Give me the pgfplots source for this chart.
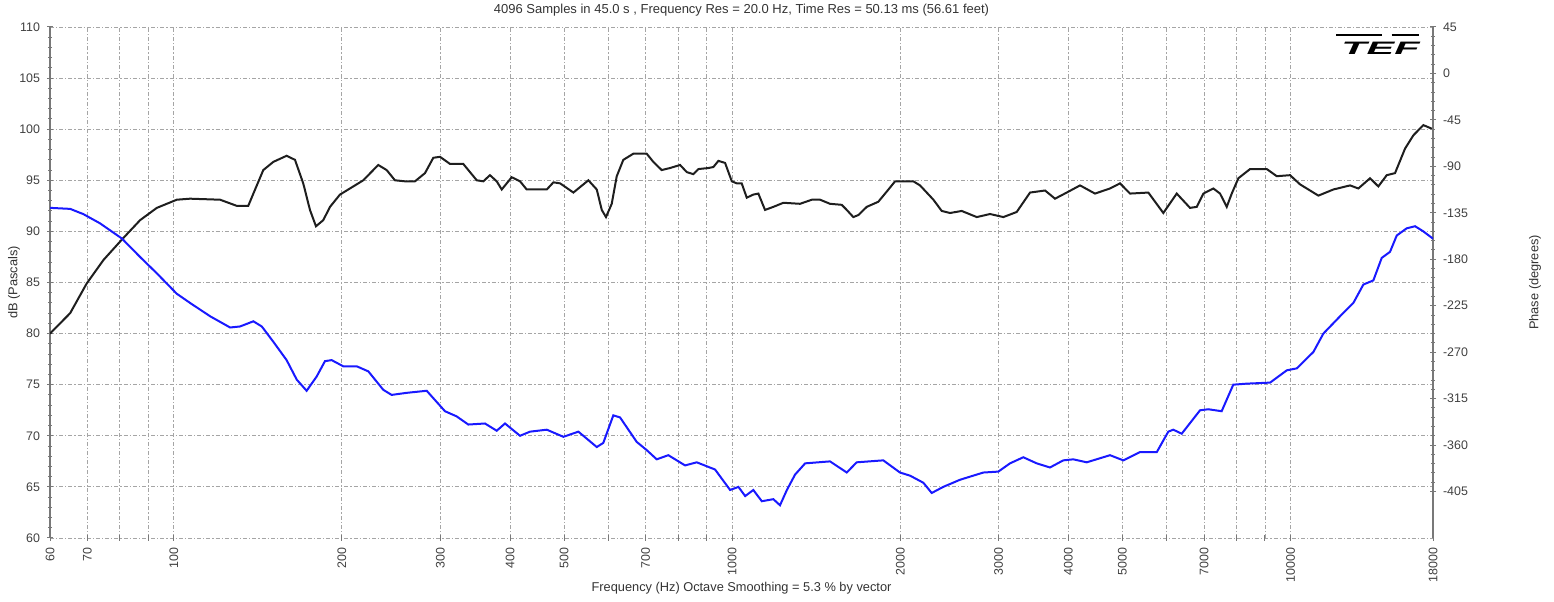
\documentclass[border=0pt]{standalone}
\usepackage{pgfplots}
\pgfplotsset{compat=1.18}
\usepackage{fontspec}
\setmainfont{Liberation Sans}
\definecolor{axgray}{RGB}{120,120,120}
\definecolor{gridgray}{RGB}{165,165,165}
\definecolor{tefblue}{RGB}{25,25,255}
\definecolor{tefblack}{RGB}{30,30,30}
\pgfkeys{/pgf/number format/assume math mode=true}
\begin{document}
\begin{tikzpicture}[font=\fontsize{6.4}{7.4}\selectfont]
\begin{axis}[name=main,
  width=691.5pt, height=255.5pt, scale only axis,
  xmode=log, xmin=60, xmax=18000,
  tick label style={font=\fontsize{6.2}{7.2}\selectfont, text=black!75},
  tick style={axgray, line width=0.5pt},
  major tick length=3pt, minor tick length=1.6pt,
  tick align=center,
  ymin=60, ymax=110, ytick={60,65,...,110},
  minor y tick num=4,
  axis lines*=left,
  x axis line style={draw=none},
  y axis line style={draw=axgray, line width=1.1pt},
  xtick={60,70,80,90,100,200,300,400,500,600,700,800,900,1000,2000,3000,4000,5000,6000,7000,8000,9000,10000,18000},
  xticklabels={60,70,{},{},100,200,300,400,500,{},700,{},{},1000,2000,3000,4000,5000,{},7000,{},{},10000,18000},
  xticklabel style={rotate=90, anchor=east},
  grid=major,
  major grid style={gridgray, dash pattern=on 2pt off 1pt on 0.6pt off 1pt, line width=0.45pt},
  title={4096 Samples in 45.0 s , Frequency Res = 20.0 Hz, Time Res = 50.13 ms (56.61  feet)},
  title style={at={(axis description cs:0.5,1)}, anchor=center, yshift=2.5pt, text=black!80, font=\fontsize{6.5}{7.5}\selectfont},
  xlabel={Frequency (Hz) Octave Smoothing = 5.3 \% by vector},
  xlabel style={at={(axis description cs:0.5,0)}, anchor=center, yshift=-25pt, text=black!80},
  ylabel={dB (Pascals)},
  ylabel style={at={(axis description cs:-0.026,0.5)}, anchor=center, text=black!80},
]
\addplot[tefblack, line width=1pt] coordinates {
(60,80.0) (65.2,82.0) (69.8,84.9) (74.8,87.2) (80.7,89.2) (87.0,91.1) (93.2,92.3) (101.2,93.1)
(106.9,93.2) (121.0,93.1) (129.6,92.5) (135.9,92.5) (138.8,93.7) (144.6,96.0) (150.7,96.8)
(159.2,97.4) (164.8,97.0) (170.5,94.7) (175.3,92.1) (179.7,90.5) (185.2,91.1) (190.4,92.4)
(198.4,93.6) (209.6,94.4) (218.4,95.0) (232.3,96.5) (240.5,96.0) (248.9,95.0) (259.4,94.9)
(270.3,94.9) (281.7,95.7) (291.5,97.2) (299.7,97.3) (312.3,96.6) (329.9,96.6) (348.7,95.0)
(358.3,94.9) (368.3,95.5) (378.7,94.9) (386.6,94.1) (402.8,95.3) (416.9,94.9) (428.5,94.1)
(465.5,94.1) (478.4,94.8) (491.8,94.7) (519.5,93.8) (552.6,95.0) (572.1,94.1) (584.0,92.1)
(594.3,91.4) (608.5,92.7) (621.2,95.4) (638.3,97.0) (665.1,97.6) (703.0,97.6) (722.4,96.8)
(747.8,96.0) (774.0,96.2) (806.6,96.5) (829.2,95.8) (852.1,95.6) (869.9,96.1) (906.5,96.2)
(925.4,96.3) (944.7,96.9) (971.1,96.7) (998.4,94.9) (1019,94.7) (1040,94.7) (1062,93.3)
(1091,93.6) (1114,93.7) (1145,92.1) (1185,92.4) (1235,92.8) (1323,92.7) (1389,93.1)
(1437,93.1) (1497,92.7) (1571,92.6) (1604,92.1) (1648,91.4) (1683,91.6) (1742,92.4)
(1827,92.9) (1892,93.9) (1958,94.9) (2111,94.9) (2170,94.5) (2293,93.1) (2373,92.0)
(2456,91.8) (2577,92.0) (2742,91.4) (2896,91.7) (3060,91.4) (3233,91.9) (3416,93.8)
(3634,94.0) (3787,93.2) (3974,93.8) (4198,94.5) (4465,93.7) (4750,94.2) (4950,94.7)
(5160,93.7) (5564,93.8) (5919,91.8) (6255,93.7) (6608,92.3) (6793,92.4) (6981,93.7)
(7275,94.2) (7479,93.7) (7688,92.4) (7849,93.7) (8065,95.2) (8464,96.1) (9068,96.1)
(9449,95.4) (9982,95.5) (10402,94.6) (11219,93.5) (11933,94.1) (12784,94.5) (13229,94.2)
(13883,95.2) (14366,94.4) (14872,95.5) (15389,95.7) (16038,98.1) (16597,99.4) (17296,100.4)
(18000,100.0)
};
\end{axis}
\begin{axis}[
  width=691.5pt, height=255.5pt, scale only axis,
  xmode=log, xmin=60, xmax=18000,
  tick label style={font=\fontsize{6.2}{7.2}\selectfont, text=black!75},
  tick style={axgray, line width=0.5pt},
  major tick length=3pt, minor tick length=1.6pt,
  tick align=center,
  ymin=-450, ymax=45, ytick={45,0,...,-405},
  minor y tick num=4,
  axis y line*=right, axis x line=none,
  y axis line style={draw=axgray, line width=1.1pt},
  yticklabel style={anchor=west},
  ylabel={Phase (degrees)},
  ylabel style={at={(axis description cs:1.0738,0.5)}, anchor=center, text=black!80},
]
\addplot[tefblue, line width=1pt] coordinates {
(60,-130.2) (65.2,-131.2) (68.8,-136.2) (73.7,-145.1) (80.7,-159.9) (87.0,-177.8) (93.2,-193.6)
(101.2,-213.4) (106.9,-222.3) (116.1,-235.2) (126.1,-246.1) (131.4,-245.1) (138.8,-240.1)
(143.7,-245.1) (150.7,-259.9) (159.2,-277.7) (166.0,-296.6) (172.9,-307.4) (180.2,-293.6)
(186.5,-278.7) (191.7,-277.7) (201.1,-283.7) (212.6,-283.7) (223.0,-288.6) (237.2,-306.5)
(245.5,-311.4) (261.2,-309.4) (283.7,-307.4) (305.9,-327.2) (321.0,-332.2) (336.8,-340.1)
(360.8,-339.1) (378.7,-346.1) (391.9,-339.1) (416.9,-351.0) (434.4,-347.0) (465.5,-345.1)
(498.5,-352.0) (530.3,-347.0) (572.1,-361.9) (587.7,-357.9) (612.5,-331.2) (629.7,-333.2)
(674.5,-356.9) (703.0,-364.9) (732.6,-373.8) (768.6,-369.8) (823.4,-379.7) (864.1,-376.7)
(931.9,-383.7) (991.4,-403.5) (1026,-400.5) (1055,-409.4) (1091,-403.5) (1130,-414.4)
(1185,-412.4) (1218,-418.3) (1253,-403.5) (1296,-388.6) (1351,-377.7) (1497,-375.8)
(1604,-386.6) (1671,-376.7) (1865,-374.8) (1998,-386.6) (2082,-389.6) (2200,-396.5)
(2277,-406.4) (2388,-400.5) (2559,-393.6) (2817,-386.6) (2997,-385.7) (3145,-377.7)
(3322,-371.8) (3511,-377.7) (3709,-381.7) (3918,-374.8) (4083,-373.8) (4315,-376.7)
(4750,-369.8) (5018,-374.8) (5376,-366.8) (5761,-366.8) (6041,-347.0) (6167,-345.1)
(6385,-349.0) (6886,-326.3) (7125,-325.3) (7529,-327.2) (7899,-301.5) (8348,-300.5)
(9192,-299.5) (9847,-287.6) (10262,-285.7) (10990,-269.8) (11451,-252.0) (12268,-235.2)
(12960,-222.3) (13505,-204.5) (14073,-200.5) (14568,-178.7) (15075,-172.8) (15498,-157.0)
(16150,-150.0) (16714,-148.0) (17296,-153.0) (18000,-160.1)
};
\node[font=\bfseries\itshape\fontsize{9}{9}\selectfont, xscale=2.3, anchor=center] at (axis description cs:0.962,0.958) {TEF};
\draw[black, line width=1.1pt] (axis description cs:0.93,0.985) -- (axis description cs:0.963,0.985);
\draw[black, line width=1.1pt] (axis description cs:0.97,0.985) -- (axis description cs:0.99,0.985);
\end{axis}
\pgfresetboundingbox
\useasboundingbox ([xshift=-25pt,yshift=-32pt]main.south west) rectangle ([xshift=60.5pt,yshift=13.5pt]main.north east);
\end{tikzpicture}
\end{document}
